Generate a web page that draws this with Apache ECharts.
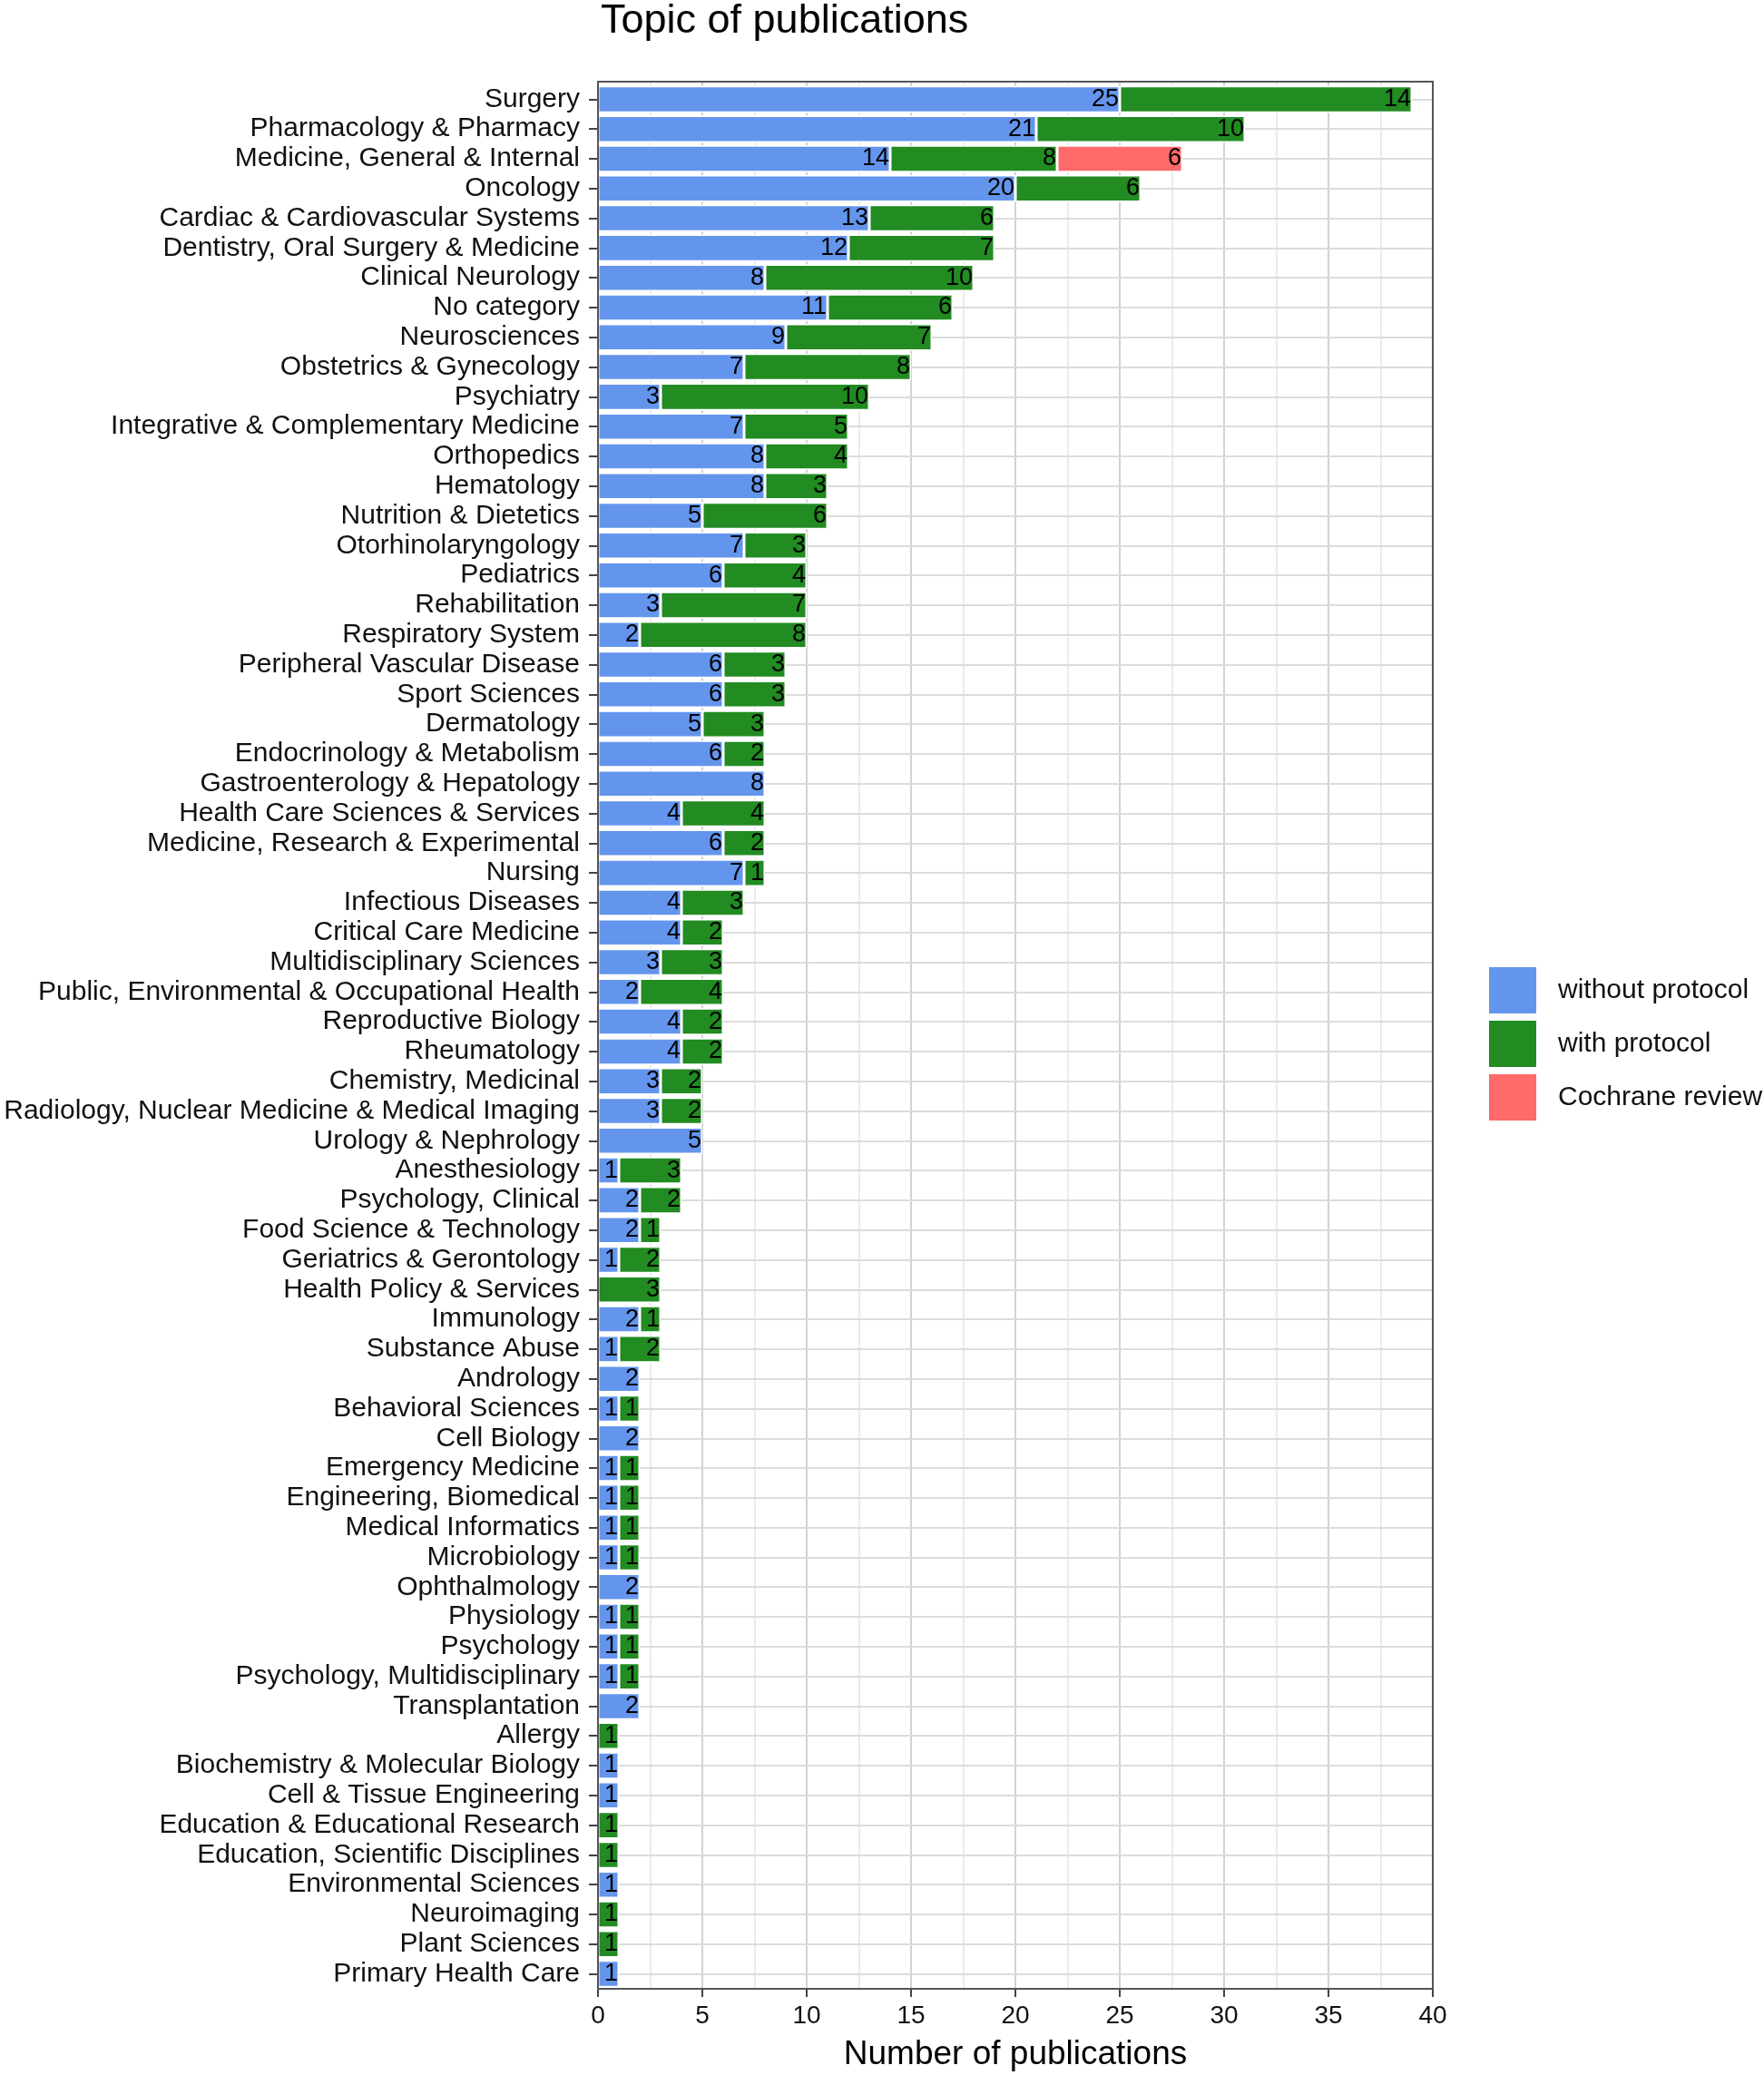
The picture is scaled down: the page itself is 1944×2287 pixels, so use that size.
<!DOCTYPE html>
<html>
<head>
<meta charset="utf-8">
<script src="https://cdn.jsdelivr.net/npm/echarts@6/dist/echarts.min.js"></script>
<style>html,body{margin:0;padding:0;background:#fff}#c{width:1944px;height:2287px}</style>
</head>
<body>
<div id="c"></div>
<script>
const categories = [
  "Surgery","Pharmacology & Pharmacy","Medicine, General & Internal","Oncology",
  "Cardiac & Cardiovascular Systems","Dentistry, Oral Surgery & Medicine","Clinical Neurology",
  "No category","Neurosciences","Obstetrics & Gynecology","Psychiatry",
  "Integrative & Complementary Medicine","Orthopedics","Hematology","Nutrition & Dietetics",
  "Otorhinolaryngology","Pediatrics","Rehabilitation","Respiratory System",
  "Peripheral Vascular Disease","Sport Sciences","Dermatology","Endocrinology & Metabolism",
  "Gastroenterology & Hepatology","Health Care Sciences & Services",
  "Medicine, Research & Experimental","Nursing","Infectious Diseases","Critical Care Medicine",
  "Multidisciplinary Sciences","Public, Environmental & Occupational Health",
  "Reproductive Biology","Rheumatology","Chemistry, Medicinal",
  "Radiology, Nuclear Medicine & Medical Imaging","Urology & Nephrology","Anesthesiology",
  "Psychology, Clinical","Food Science & Technology","Geriatrics & Gerontology",
  "Health Policy & Services","Immunology","Substance Abuse","Andrology","Behavioral Sciences",
  "Cell Biology","Emergency Medicine","Engineering, Biomedical","Medical Informatics",
  "Microbiology","Ophthalmology","Physiology","Psychology","Psychology, Multidisciplinary",
  "Transplantation","Allergy","Biochemistry & Molecular Biology","Cell & Tissue Engineering",
  "Education & Educational Research","Education, Scientific Disciplines",
  "Environmental Sciences","Neuroimaging","Plant Sciences","Primary Health Care"
];
const withoutProtocol = [
  25,21,14,20,13,12,8,11,9,7,3,7,8,8,5,7,6,3,2,6,6,5,6,8,4,6,7,4,4,3,2,4,4,3,3,5,1,2,2,1,
  0,2,1,2,1,2,1,1,1,1,2,1,1,1,2,0,1,1,0,0,1,0,0,1
];
const withProtocol = [
  14,10,8,6,6,7,10,6,7,8,10,5,4,3,6,3,4,7,8,3,3,3,2,0,4,2,1,3,2,3,4,2,2,2,2,0,3,2,1,2,
  3,1,2,0,1,0,1,1,1,1,0,1,1,1,0,1,0,0,1,1,0,1,1,0
];
const cochraneReview = [
  0,0,6,0,0,0,0,0,0,0,0,0,0,0,0,0,0,0,0,0,0,0,0,0,0,0,0,0,0,0,0,0,0,0,0,0,0,0,0,0,
  0,0,0,0,0,0,0,0,0,0,0,0,0,0,0,0,0,0,0,0,0,0,0,0
];
const seriesNames = ["without protocol","with protocol","Cochrane review"];
const seriesColors = ["#6495ED","#228B22","#FF6A6A"];
const xTicks = [0,5,10,15,20,25,30,35,40];

const FONT = "Liberation Sans, Arial, Helvetica, sans-serif";
const chart = echarts.init(document.getElementById('c'), null, {renderer: 'canvas'});

function barSeries(name, values, color) {
  return {
    name: name, type: 'bar', stack: 'total', z: 10,
    xAxisIndex: 0, yAxisIndex: 0,
    barWidth: '90%',
    data: values.map(v => v === 0 ? '-' : v),
    itemStyle: {color: color, borderColor: '#ffffff', borderWidth: 1.5},
    label: {
      show: true, position: 'insideRight', distance: 1,
      fontFamily: FONT, fontSize: 27, color: '#000',
      formatter: p => (p.value ? String(p.value) : '')
    }
  };
}

const xMin = xTicks[0], xMax = xTicks[xTicks.length - 1];

chart.setOption({
  animation: false,
  backgroundColor: '#ffffff',
  textStyle: {fontFamily: FONT},
  title: {
    text: 'Topic of publications', left: 657, top: -4,
    textStyle: {fontFamily: FONT, fontSize: 45, fontWeight: 'normal', color: '#000'}
  },
  legend: {
    data: seriesNames, orient: 'vertical', left: 1641, top: 1066,
    padding: 0, itemWidth: 52, itemHeight: 51, itemGap: 8,
    icon: 'rect',
    itemStyle: {borderWidth: 0},
    textStyle: {fontFamily: FONT, fontSize: 30, color: '#111', padding: [0, 0, 0, 19]}
  },
  grid: [
    {left: 659, top: 93, width: 920, height: 2099, show: false,
     containLabel: false, outerBoundsMode: 'none'},
    {left: 659, top: 90, width: 920, height: 2102, show: true, z: 20,
     borderColor: '#555', borderWidth: 2, backgroundColor: 'transparent',
     containLabel: false, outerBoundsMode: 'none'}
  ],
  xAxis: [
    {
      gridIndex: 0, type: 'value', min: xMin, max: xMax, interval: 5,
      name: 'Number of publications', nameLocation: 'middle', nameGap: 54,
      nameTextStyle: {fontFamily: FONT, fontSize: 37, color: '#000'},
      axisLine: {show: false},
      axisTick: {show: true, length: 9, lineStyle: {color: '#444', width: 2}},
      axisLabel: {fontFamily: FONT, fontSize: 28, color: '#111', margin: 16},
      splitLine: {show: false}
    },
    {
      gridIndex: 1, type: 'value', min: xMin, max: xMax, interval: 5,
      axisLine: {show: false}, axisTick: {show: false}, axisLabel: {show: false},
      splitLine: {show: true, lineStyle: {color: '#d2d2d2', width: 2}},
      minorTick: {show: false, splitNumber: 2},
      minorSplitLine: {show: true, lineStyle: {color: '#ebebeb', width: 2}}
    }
  ],
  yAxis: [
    {
      gridIndex: 0, type: 'category', inverse: true, data: categories,
      axisLine: {show: false},
      axisTick: {show: true, alignWithLabel: true, length: 10, lineStyle: {color: '#444', width: 2}},
      axisLabel: {fontFamily: FONT, fontSize: 30, color: '#111', margin: 20, interval: 0},
      splitLine: {show: false}
    },
    {
      gridIndex: 1, type: 'value', min: 0, max: 1,
      show: false, splitLine: {show: false}
    }
  ],
  series: [
    {
      name: 'grid', type: 'line', data: [], silent: true, z: 1,
      xAxisIndex: 0, yAxisIndex: 0,
      markLine: {
        silent: true, symbol: ['none', 'none'], z: 1, animation: false,
        label: {show: false},
        lineStyle: {color: '#dcdcdc', width: 2, type: 'solid'},
        emphasis: {disabled: true},
        data: categories.map(c => ({yAxis: c}))
      }
    },
    barSeries(seriesNames[0], withoutProtocol, seriesColors[0]),
    barSeries(seriesNames[1], withProtocol, seriesColors[1]),
    barSeries(seriesNames[2], cochraneReview, seriesColors[2])
  ]
});
</script>
</body>
</html>
